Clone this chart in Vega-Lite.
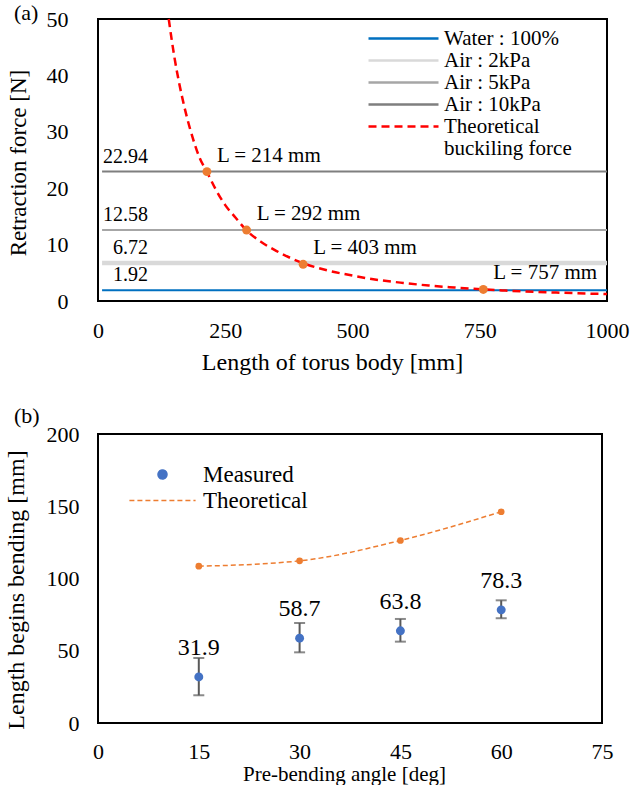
{
  "$schema": "https://vega.github.io/schema/vega-lite/v6.json",
  "padding": {"left": 3, "top": 1, "right": 1, "bottom": 0},
  "config": {
    "font": "Liberation Serif",
    "view": {"stroke": "#000000", "strokeWidth": 2},
    "axis": {"grid": false, "ticks": false, "domain": false, "labelFont": "Liberation Serif", "titleFont": "Liberation Serif", "labelColor": "#000000", "titleColor": "#000000", "titleFontWeight": "normal", "labelFontSize": 22, "titleFontSize": 22},
    "legend": {"labelFont": "Liberation Serif", "labelColor": "#000000"},
    "title": {"font": "Liberation Serif", "fontWeight": "normal", "fontSize": 22, "color": "#000000"}
  },
  "datasets": {
    "levels": [
      {"series": "Water : 100%", "F": 1.92, "x0": 8, "x1": 1000, "label": "1.92"},
      {"series": "Air : 2kPa", "F": 6.72, "x0": 8, "x1": 1000, "label": "6.72"},
      {"series": "Air : 5kPa", "F": 12.58, "x0": 8, "x1": 1000, "label": "12.58"},
      {"series": "Air : 10kPa", "F": 22.94, "x0": 8, "x1": 1000, "label": "22.94"}
    ],
    "curve": [
      {"series": "Theoretical", "L": 139, "F": 50},
      {"series": "Theoretical", "L": 145, "F": 46.2},
      {"series": "Theoretical", "L": 150, "F": 43.3},
      {"series": "Theoretical", "L": 160, "F": 38.4},
      {"series": "Theoretical", "L": 170, "F": 34.3},
      {"series": "Theoretical", "L": 180, "F": 30.8},
      {"series": "Theoretical", "L": 190, "F": 27.8},
      {"series": "Theoretical", "L": 200, "F": 25.3},
      {"series": "Theoretical", "L": 214, "F": 22.9},
      {"series": "Theoretical", "L": 230, "F": 20.0},
      {"series": "Theoretical", "L": 250, "F": 17.0},
      {"series": "Theoretical", "L": 270, "F": 14.8},
      {"series": "Theoretical", "L": 292, "F": 12.5},
      {"series": "Theoretical", "L": 320, "F": 10.5},
      {"series": "Theoretical", "L": 350, "F": 8.9},
      {"series": "Theoretical", "L": 403, "F": 6.7},
      {"series": "Theoretical", "L": 450, "F": 5.45},
      {"series": "Theoretical", "L": 500, "F": 4.5},
      {"series": "Theoretical", "L": 550, "F": 3.74},
      {"series": "Theoretical", "L": 600, "F": 3.2},
      {"series": "Theoretical", "L": 650, "F": 2.74},
      {"series": "Theoretical", "L": 700, "F": 2.4},
      {"series": "Theoretical", "L": 757, "F": 2.05},
      {"series": "Theoretical", "L": 800, "F": 1.85},
      {"series": "Theoretical", "L": 900, "F": 1.5},
      {"series": "Theoretical", "L": 1000, "F": 1.22}
    ],
    "crit": [
      {"L": 214, "F": 22.94, "label": "L = 214 mm"},
      {"L": 292, "F": 12.58, "label": "L = 292 mm"},
      {"L": 403, "F": 6.5, "label": "L = 403 mm"},
      {"L": 757, "F": 2.05, "label": "L = 757 mm"}
    ],
    "meas": [
      {"angle": 15, "len": 31.9, "lo": 19.2, "hi": 45.0, "series": "Measured", "label": "31.9"},
      {"angle": 30, "len": 58.7, "lo": 48.9, "hi": 69.2, "series": "Measured", "label": "58.7"},
      {"angle": 45, "len": 63.8, "lo": 56.3, "hi": 72.0, "series": "Measured", "label": "63.8"},
      {"angle": 60, "len": 78.3, "lo": 72.5, "hi": 84.9, "series": "Measured", "label": "78.3"}
    ],
    "theo": [
      {"angle": 15, "len": 108.5, "series": "Theoretical"},
      {"angle": 30, "len": 112.2, "series": "Theoretical"},
      {"angle": 45, "len": 126.3, "series": "Theoretical"},
      {"angle": 60, "len": 146.2, "series": "Theoretical"}
    ]
  },
  "columns": 1,
  "align": "none",
  "spacing": 29,
  "resolve": {"scale": {"color": "independent", "strokeDash": "independent", "shape": "independent"}, "legend": {"color": "independent", "strokeDash": "independent", "shape": "independent"}},
  "concat": [
    {
      "width": 509,
      "height": 282,
      "title": {"text": "(a)", "anchor": "start", "frame": "group", "dx": -84, "offset": -17},
      "layer": [
        {
          "data": {"name": "levels"},
          "mark": {"type": "rule"},
          "encoding": {
            "x": {"field": "x0", "type": "quantitative", "scale": {"domain": [0, 1000], "nice": false}, "axis": {"values": [0, 250, 500, 750, 1000], "format": "d", "title": "Length of torus body [mm]", "titleFontSize": 24, "labelPadding": 19, "titlePadding": 9, "titleX": 234, "labelFlush": false}},
            "x2": {"field": "x1"},
            "y": {"field": "F", "type": "quantitative", "scale": {"domain": [0, 50], "nice": false}, "axis": {"values": [0, 10, 20, 30, 40, 50], "title": "Retraction force [N]", "titleFontSize": 23, "labelPadding": 30, "titleX": -79.5, "titleY": 143.5, "titleBaseline": "middle"}},
            "color": {
              "field": "series", "type": "nominal",
              "scale": {"domain": ["Water : 100%", "Air : 2kPa", "Air : 5kPa", "Air : 10kPa", "Theoretical", "buckiling force"], "range": ["#0070C0", "#D9D9D9", "#A6A6A6", "#7F7F7F", "#FF0000", "transparent"]},
              "legend": {
                "title": null, "orient": "none", "legendX": 295, "legendY": 9, "padding": 0,
                "symbolType": "M-7,0H7", "symbolSize": 100, "symbolStrokeWidth": 2.4, "labelFontSize": 21, "labelOffset": 30, "rowPadding": 0, "labelLimit": 300
              }
            },
            "strokeDash": {
              "field": "series", "type": "nominal",
              "scale": {"domain": ["Water : 100%", "Air : 2kPa", "Air : 5kPa", "Air : 10kPa", "Theoretical", "buckiling force"], "range": [[1, 0], [1, 0], [1, 0], [1, 0], [8, 5], [1, 0]]},
              "legend": {
                "title": null, "orient": "none", "legendX": 295, "legendY": 9, "padding": 0,
                "symbolType": "M-7,0H7", "symbolSize": 100, "symbolStrokeWidth": 2.4, "labelFontSize": 21, "labelOffset": 30, "rowPadding": 0, "labelLimit": 300
              }
            },
            "strokeWidth": {"condition": {"test": "datum.series === 'Air : 2kPa'", "value": 4.5}, "value": 2}
          }
        },
        {
          "data": {"name": "curve"},
          "mark": {"type": "line", "strokeWidth": 2.5, "interpolate": "monotone"},
          "encoding": {
            "x": {"field": "L", "type": "quantitative"},
            "y": {"field": "F", "type": "quantitative"},
            "color": {"field": "series", "type": "nominal"},
            "strokeDash": {"field": "series", "type": "nominal"}
          }
        },
        {
          "data": {"name": "crit"},
          "mark": {"type": "point", "filled": true, "size": 80, "opacity": 1, "color": "#ED7D31"},
          "encoding": {
            "x": {"field": "L", "type": "quantitative"},
            "y": {"field": "F", "type": "quantitative"}
          }
        },
        {
          "data": {"name": "levels"},
          "mark": {"type": "text", "align": "right", "baseline": "alphabetic", "dx": 46, "dy": -9, "fontSize": 20, "color": "#000000"},
          "encoding": {
            "x": {"field": "x0", "type": "quantitative"},
            "y": {"field": "F", "type": "quantitative"},
            "text": {"field": "label"}
          }
        },
        {
          "data": {"name": "crit"},
          "mark": {"type": "text", "align": "left", "baseline": "alphabetic", "dx": 10, "dy": -10, "fontSize": 21, "color": "#000000"},
          "encoding": {
            "x": {"field": "L", "type": "quantitative"},
            "y": {"field": "F", "type": "quantitative"},
            "text": {"field": "label"}
          }
        }
      ]
    },
    {
      "width": 504,
      "height": 289,
      "title": {"text": "(b)", "anchor": "start", "frame": "group", "dx": -84, "offset": -5},
      "layer": [
        {
          "data": {"name": "theo"},
          "mark": {"type": "line", "strokeWidth": 1.5, "interpolate": "monotone", "point": {"filled": true, "size": 45, "opacity": 1}},
          "encoding": {
            "x": {"field": "angle", "type": "quantitative", "scale": {"domain": [0, 75], "nice": false}, "axis": {"values": [0, 15, 30, 45, 60, 75], "title": "Pre-bending angle [deg]", "titleFontSize": 21, "labelPadding": 18, "titlePadding": 1, "titleX": 246, "labelFlush": false}},
            "y": {"field": "len", "type": "quantitative", "scale": {"domain": [0, 200], "nice": false}, "axis": {"values": [0, 50, 100, 150, 200], "title": "Length begins bending [mm]", "titleFontSize": 24, "labelPadding": 19, "titleX": -82, "titleY": 155.5, "titleBaseline": "middle"}},
            "color": {
              "field": "series", "type": "nominal",
              "scale": {"domain": ["Measured", "Theoretical"], "range": ["#4472C4", "#ED7D31"]},
              "legend": {
                "title": null, "orient": "none", "legendX": 53, "legendY": 29, "padding": 0,
                "symbolSize": 80, "symbolStrokeWidth": 1.5, "labelFontSize": 23, "labelOffset": 29, "rowPadding": 2, "labelLimit": 300
              }
            },
            "strokeDash": {
              "field": "series", "type": "nominal",
              "scale": {"domain": ["Measured", "Theoretical"], "range": [[1, 0], [5, 3]]},
              "legend": {
                "title": null, "orient": "none", "legendX": 53, "legendY": 29, "padding": 0,
                "symbolSize": 80, "symbolStrokeWidth": 1.5, "labelFontSize": 23, "labelOffset": 29, "rowPadding": 2, "labelLimit": 300
              }
            }
          }
        },
        {
          "data": {"name": "meas"},
          "mark": {"type": "errorbar", "ticks": {"size": 11, "thickness": 2, "color": "#595959"}, "rule": {"strokeWidth": 2, "color": "#595959"}},
          "encoding": {
            "x": {"field": "angle", "type": "quantitative"},
            "y": {"field": "lo", "type": "quantitative", "title": "Length begins bending [mm]"},
            "y2": {"field": "hi"}
          }
        },
        {
          "data": {"name": "meas"},
          "mark": {"type": "point", "filled": true, "size": 80, "opacity": 1},
          "encoding": {
            "x": {"field": "angle", "type": "quantitative"},
            "y": {"field": "len", "type": "quantitative", "title": "Length begins bending [mm]"},
            "color": {"field": "series", "type": "nominal"},
            "shape": {
              "field": "series", "type": "nominal",
              "scale": {"domain": ["Measured", "Theoretical"], "range": ["circle", "M-7.4,0H7.4"]},
              "legend": {
                "title": null, "orient": "none", "legendX": 53, "legendY": 29, "padding": 0,
                "symbolSize": 80, "symbolStrokeWidth": 1.5, "labelFontSize": 23, "labelOffset": 29, "rowPadding": 2, "labelLimit": 300
              }
            }
          }
        },
        {
          "data": {"name": "meas"},
          "mark": {"type": "text", "baseline": "middle", "dy": -29, "fontSize": 24, "color": "#000000"},
          "encoding": {
            "x": {"field": "angle", "type": "quantitative"},
            "y": {"field": "len", "type": "quantitative", "title": "Length begins bending [mm]"},
            "text": {"field": "label"}
          }
        }
      ]
    }
  ]
}
